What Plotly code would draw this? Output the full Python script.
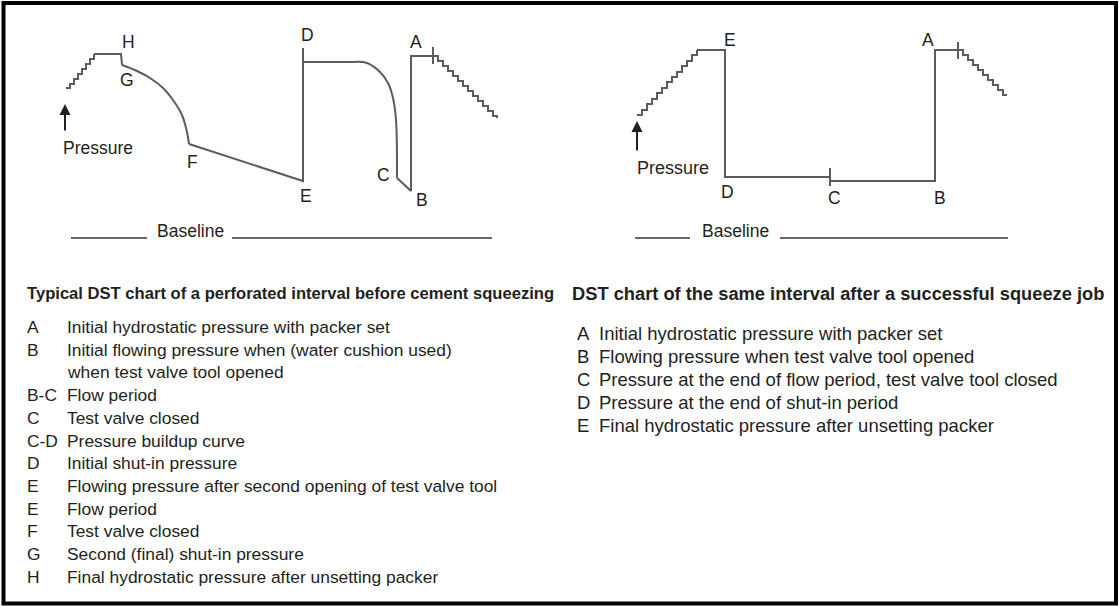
import plotly.graph_objects as go

FONT = "Liberation Sans, Arial, sans-serif"
INK = "#231f20"
LINE = "#5c5c5c"

# ---- left sketch: DST before squeeze (x = time, y = chart pen position, top = high pressure)
left_rise_x = [66, 70, 74, 78, 82, 86, 90, 94]
left_rise_y = [88, 84, 79, 74, 69, 64, 59, 54]

left_top_x = [94, 121, 122]
left_top_y = [54, 54, 65]

# G -> F second shut-in curve
left_gf_x = [122, 137, 150, 163, 173, 182, 187, 189]
left_gf_y = [65, 71, 78, 88, 100, 115, 132, 144]

# F -> E flow, E -> D jump
left_fed_x = [189, 303, 303, 303, 353]
left_fed_y = [144, 181, 48, 62, 62]

# D -> C buildup curve
left_dc_x = [353, 367, 380, 388, 393, 396, 397]
left_dc_y = [62, 63, 72, 83, 98, 120, 178]

# C -> B -> A
left_cba_x = [397, 411, 411, 433]
left_cba_y = [178, 191, 56, 56]

left_fall_x = [433, 438, 443, 448, 453, 458, 463, 468, 473, 478, 483, 488, 493, 497]
left_fall_y = [56, 61, 66, 71, 76, 81, 86, 91, 96, 101, 106, 111, 116, 118]

left_tick_x = [433, 433]
left_tick_y = [47, 64]

left_points = ["H", "G", "F", "E", "D", "C", "B", "A"]
left_point_x = [128, 127, 192, 306, 307, 383, 422, 416]
left_point_y = [42, 80, 162, 196, 35, 175, 200, 42]

# ---- right sketch: DST after squeeze
right_rise_x = [637, 642, 647, 652, 657, 662, 667, 672, 677, 682, 687, 692, 697]
right_rise_y = [115, 110, 104, 99, 93, 88, 82, 77, 72, 66, 61, 55, 50]

right_path_x = [697, 725, 725, 830, 830, 935, 935, 958]
right_path_y = [50, 50, 177, 177, 181, 181, 50, 50]

right_fall_x = [958, 963, 968, 973, 978, 983, 988, 993, 998, 1003, 1006]
right_fall_y = [50, 55, 60, 65, 70, 75, 80, 85, 90, 95, 96]

right_tick_x = [[830, 830], [958, 958]]
right_tick_y = [[168, 186], [42, 59]]

right_points = ["E", "A", "D", "C", "B"]
right_point_x = [730, 928, 727, 834, 940]
right_point_y = [40, 40, 192, 198, 198]

# ---- legend texts
left_title = "Typical DST chart of a perforated interval before cement squeezing"
left_codes = ["A", "B", "", "B-C", "C", "C-D", "D", "E", "E", "F", "G", "H"]
left_desc = [
    "Initial hydrostatic pressure with packer set",
    "Initial flowing pressure when (water cushion used)",
    "when test valve tool opened",
    "Flow period",
    "Test valve closed",
    "Pressure buildup curve",
    "Initial shut-in pressure",
    "Flowing pressure after second opening of test valve tool",
    "Flow period",
    "Test valve closed",
    "Second (final) shut-in pressure",
    "Final hydrostatic pressure after unsetting packer",
]

right_title = "DST chart of the same interval after a successful squeeze job"
right_codes = ["A", "B", "C", "D", "E"]
right_desc = [
    "Initial hydrostatic pressure with packer set",
    "Flowing pressure when test valve tool opened",
    "Pressure at the end of flow period, test valve tool closed",
    "Pressure at the end of shut-in period",
    "Final hydrostatic pressure after unsetting packer",
]

fig = go.Figure()


def pen(x, y, shape="linear"):
    fig.add_trace(go.Scatter(x=x, y=y, mode="lines", line=dict(color=LINE, width=2, shape=shape),
                             hoverinfo="skip", showlegend=False))


pen(left_rise_x, left_rise_y, "hv")
pen(left_top_x, left_top_y)
pen(left_gf_x, left_gf_y, "spline")
pen(left_fed_x, left_fed_y)
pen(left_dc_x, left_dc_y, "spline")
pen(left_cba_x, left_cba_y)
pen(left_fall_x, left_fall_y, "hv")
pen(left_tick_x, left_tick_y)
pen(right_rise_x, right_rise_y, "hv")
pen(right_path_x, right_path_y)
pen(right_fall_x, right_fall_y, "hv")
for tx, ty in zip(right_tick_x, right_tick_y):
    pen(tx, ty)

# baselines
for xs in ([71, 147], [232, 492], [635, 690], [780, 1008]):
    fig.add_trace(go.Scatter(x=xs, y=[238, 238], mode="lines", line=dict(color="#333", width=1.6),
                             hoverinfo="skip", showlegend=False))

ann = []
for t, x, y in zip(left_points + right_points, left_point_x + right_point_x, left_point_y + right_point_y):
    ann.append(dict(x=x, y=y, text=t, showarrow=False, font=dict(size=17.5, color=INK)))

for x, y, s in [(98, 148, 17.5), (673, 168, 18)]:
    ann.append(dict(x=x, y=y, text="Pressure", showarrow=False, font=dict(size=s, color=INK)))
for x, y0, y1 in [(65, 132, 104), (637, 152, 121)]:
    ann.append(dict(x=x, y=y1, ax=x, ay=y0, axref="x", ayref="y", text="", showarrow=True,
                    arrowhead=2, arrowsize=1.1, arrowwidth=2, arrowcolor=INK))
for x in (190, 735):
    ann.append(dict(x=x, y=231, text="Baseline", showarrow=False, font=dict(size=17.5, color=INK)))

ann.append(dict(x=25, y=293, text="<b>" + left_title + "</b>", xanchor="left", showarrow=False,
                font=dict(size=16.6, color=INK)))
ann.append(dict(x=570, y=293, text="<b>" + right_title + "</b>", xanchor="left", showarrow=False,
                font=dict(size=18.3, color=INK)))

for i, (c, d) in enumerate(zip(left_codes, left_desc)):
    y = 327 + i * 22.7
    ann.append(dict(x=25, y=y, text=c, xanchor="left", showarrow=False, font=dict(size=17.4, color=INK)))
    ann.append(dict(x=65, y=y, text=d, xanchor="left", showarrow=False, font=dict(size=17.4, color=INK)))

for i, (c, d) in enumerate(zip(right_codes, right_desc)):
    y = 333 + i * 23.1
    ann.append(dict(x=575, y=y, text=c, xanchor="left", showarrow=False, font=dict(size=18.5, color=INK)))
    ann.append(dict(x=597, y=y, text=d, xanchor="left", showarrow=False, font=dict(size=18.5, color=INK)))

fig.update_layout(
    width=1119, height=606,
    margin=dict(l=0, r=0, t=0, b=0),
    paper_bgcolor="white", plot_bgcolor="white",
    font=dict(family=FONT, color=INK),
    xaxis=dict(range=[0, 1119], visible=False, fixedrange=True),
    yaxis=dict(range=[606, 0], visible=False, fixedrange=True),
    annotations=ann,
    shapes=[dict(type="rect", x0=3.5, x1=1116, y0=3, y1=603.5, line=dict(color="black", width=4))],
)

fig.write_html("out.html", config={"displayModeBar": False},
               post_script="document.body.style.margin='0px';document.body.style.overflow='hidden';")
